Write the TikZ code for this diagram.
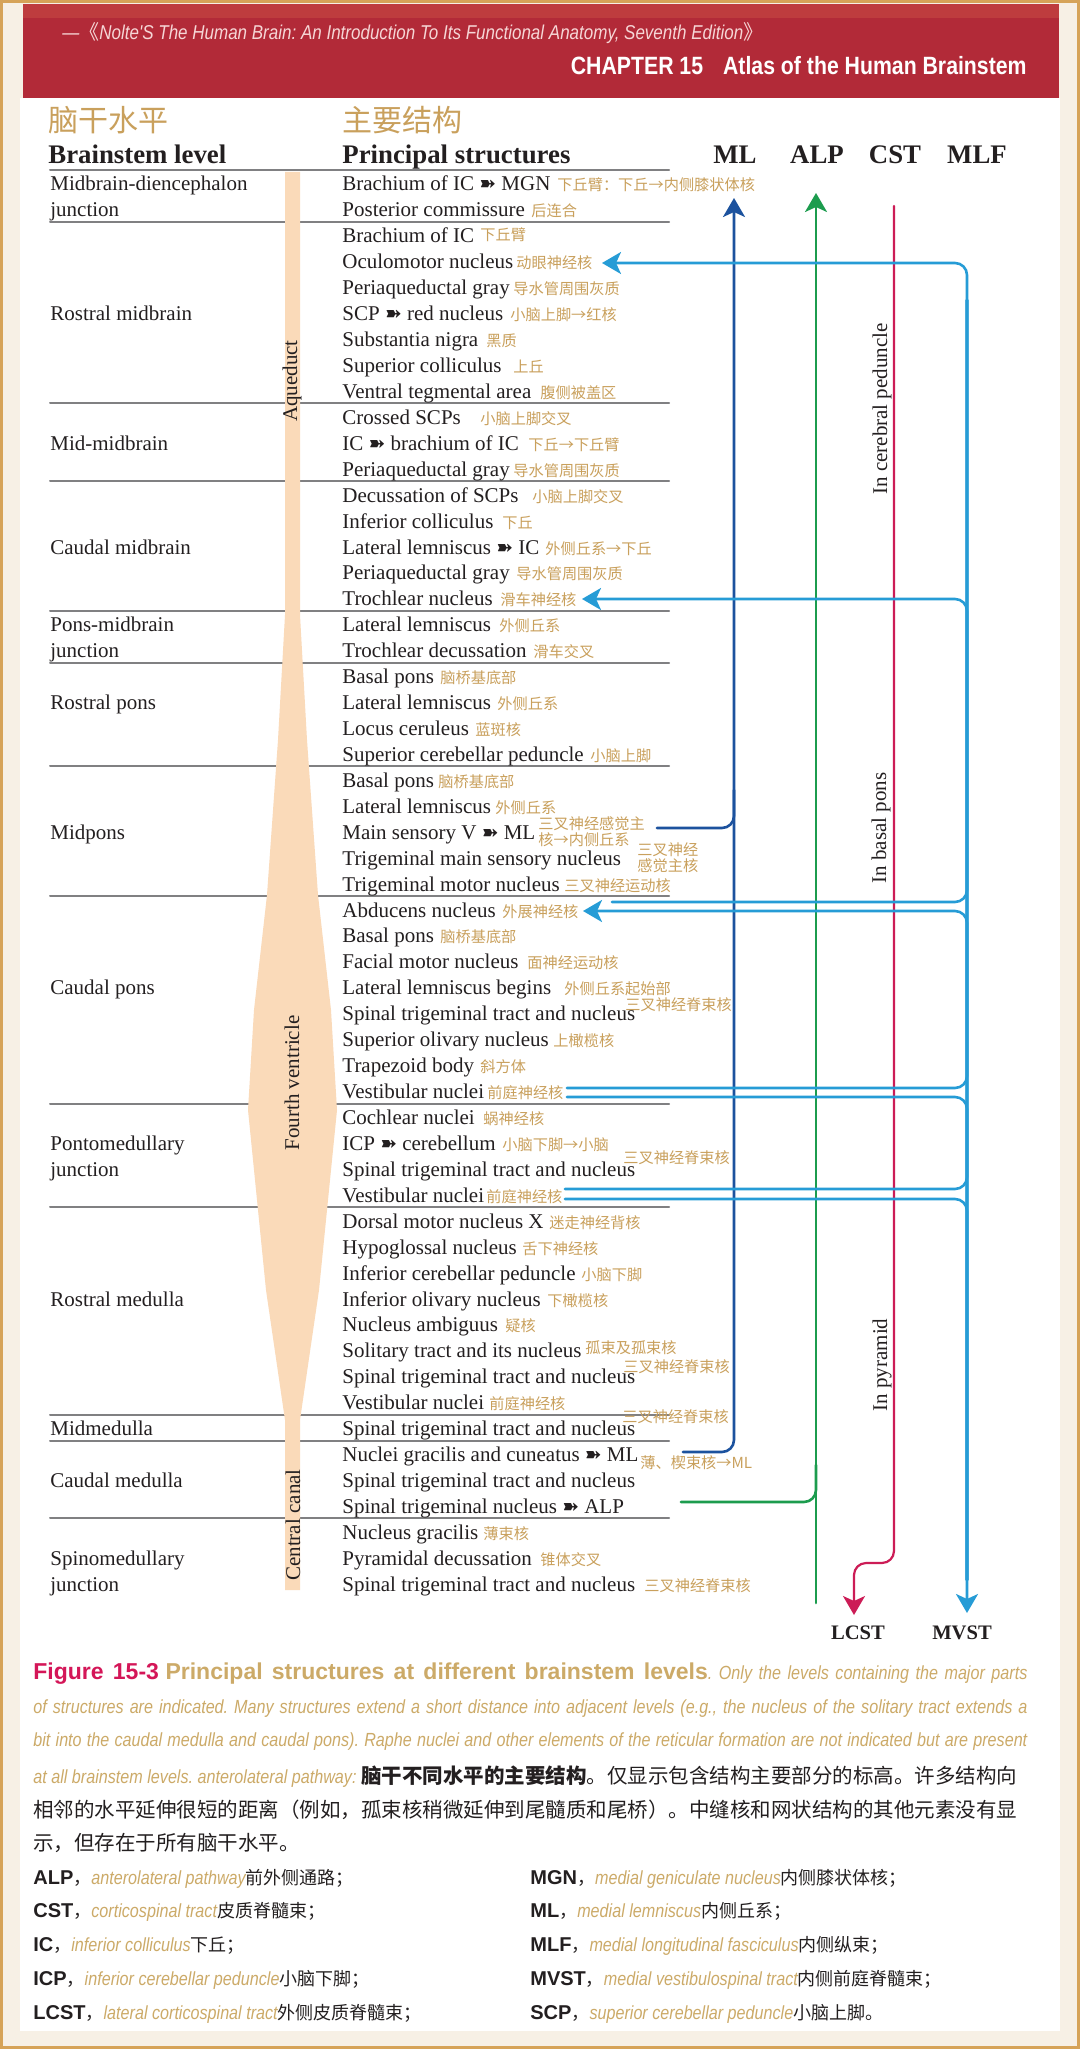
\documentclass[tikz,border=0pt]{standalone}
\usepackage{fontspec}
\setmainfont{Liberation Serif}
\newfontfamily\zhfont{Noto Sans CJK SC}
\newfontfamily\plainsf{Liberation Sans}
\newfontfamily\capsf{Liberation Sans}[FakeStretch=0.85]
\newfontfamily\symfont{DejaVu Sans}
\usetikzlibrary{arrows.meta,positioning}
\frenchspacing

\definecolor{paper}{RGB}{247,240,229}
\definecolor{framegold}{RGB}{214,163,88}
\definecolor{bandred}{RGB}{178,42,56}
\definecolor{bandtop}{RGB}{190,60,62}
\definecolor{headpink}{RGB}{246,214,214}
\definecolor{zhgold}{RGB}{201,160,92}
\definecolor{capgold}{RGB}{204,170,104}
\definecolor{figred}{RGB}{212,22,88}
\definecolor{ink}{RGB}{35,31,32}
\definecolor{sepgray}{RGB}{128,128,130}
\definecolor{peach}{RGB}{250,218,185}
\definecolor{mlblue}{RGB}{28,82,158}
\definecolor{alpgreen}{RGB}{28,156,78}
\definecolor{cstred}{RGB}{204,28,86}
\definecolor{mlfblue}{RGB}{38,156,214}

\newcommand*{\tto}{{\symfont\fontsize{10}{10}\selectfont ➽}}
\newcommand*{\abbr}[3]{{\plainsf\bfseries\fontsize{10}{12}\selectfont #1}{\zhfont\fontsize{9}{11}\selectfont ，}%
    \textcolor{capgold}{\capsf\itshape\fontsize{9.5}{11}\selectfont #2}{\zhfont\fontsize{9}{11}\selectfont #3}}

\tikzset{hd/.tip={Stealth[length=9.5pt,width=11pt,inset=2.5pt]}}

\begin{document}
\begin{tikzpicture}[x=0.5pt,y=-0.5pt,line cap=round,line join=round,
    row/.style={anchor=base west,inner sep=0pt,text=ink,font=\fontsize{10.5}{12}\selectfont},
    zh/.style={anchor=base west,inner sep=0pt,text=zhgold,font=\zhfont\fontsize{7.6}{8}\selectfont},
    zhtwo/.style={zh,anchor=west,align=left},
    colhead/.style={anchor=base,inner sep=0pt,text=ink,font=\bfseries\fontsize{13.4}{15}\selectfont},
    zhhead/.style={anchor=base west,inner sep=0pt,text=zhgold,font=\zhfont\fontsize{15}{17}\selectfont},
    foot/.style={anchor=base,inner sep=0pt,text=ink,font=\bfseries\fontsize{10.3}{12}\selectfont},
    vlabel/.style={rotate=90,inner sep=0pt,text=ink,font=\fontsize{10.5}{12}\selectfont},
    capline/.style={anchor=base west,inner sep=0pt,font=\capsf\fontsize{9.5}{11}\selectfont},
    zhcap/.style={anchor=base west,inner sep=0pt,text=ink,font=\zhfont\fontsize{10.25}{12}\selectfont},
    abbrline/.style={anchor=base west,inner sep=0pt,text=ink},
    sep/.style={draw=sepgray,line width=1pt},
    mlline/.style={draw=mlblue,line width=1.3pt,rounded corners=6pt},
    alpline/.style={draw=alpgreen,line width=1.3pt,rounded corners=6pt},
    cstline/.style={draw=cstred,line width=1.1pt,rounded corners=6pt},
    mlfline/.style={draw=mlfblue,line width=1.3pt,rounded corners=6pt}]
    \useasboundingbox (0,0) rectangle (1080,2049);
    \fill[paper] (0,0) rectangle (1080,2049);
    \draw[framegold,line width=2pt] (1,1) rectangle (1079,2048);
    \fill[white] (20,98) rectangle (1060,2031);
    \fill[bandred] (23,4) rectangle (1059,98);
    \fill[bandtop] (23,4) rectangle (1059,18);
    \node[anchor=base west,inner sep=0pt,text=headpink,font=\capsf\itshape\fontsize{10}{12}\selectfont] (book) at (62,40)
        {—{\zhfont《}Nolte'S The Human Brain: An Introduction To Its Functional Anatomy, Seventh Edition{\zhfont》}};
    \node[anchor=base east,inner sep=0pt,text=white,font=\capsf\bfseries\fontsize{12.5}{14}\selectfont] (chapter) at (1027,75)
        {CHAPTER 15\hspace{10pt}Atlas of the Human Brainstem};

    \node[zhhead] (zhlevel) at (48,132) {脑干水平};
    \node[zhhead] (zhstruct) at (342,132) {主要结构};
    \node[colhead,anchor=base west] (level) at (48,164) {Brainstem level};
    \node[colhead,anchor=base west] (struct) at (342,164) {Principal structures};
    \node[colhead] (ml) at (735,164) {ML};
    \node[colhead] (alp) at (817,164) {ALP};
    \node[colhead] (cst) at (895,164) {CST};
    \node[colhead] (mlf) at (977,164) {MLF};

    \foreach \g in {0,2,9,12,17,19,23,28,36,40,48,49,52}
        \draw[sep] (50,{183+(\g-0.5)*25.93}) -- (669,{183+(\g-0.5)*25.93});

    \fill[peach] (285,172) -- (285,615) -- (278,740) -- (267,895) -- (254,1010) -- (248,1110) -- (266,1290)
        -- (285,1420) -- (285,1590) -- (300,1590) -- (300,1420) -- (319,1290) -- (337,1110) -- (331,1010)
        -- (318,895) -- (307,740) -- (300,615) -- (300,172) -- cycle;
    \node[vlabel] (aqueduct) at (292,381) {Aqueduct};
    \node[vlabel] (fourth) at (292,1083) {Fourth ventricle};
    \node[vlabel] (canal) at (293,1525) {Central canal};

    \foreach \k/\txt in {1/Midbrain-diencephalon,2/junction,6/Rostral midbrain,11/Mid-midbrain,15/Caudal midbrain,
        18/Pons-midbrain,19/junction,21/Rostral pons,26/Midpons,32/Caudal pons,38/Pontomedullary,39/junction,
        44/Rostral medulla,49/Midmedulla,51/Caudal medulla,54/Spinomedullary,55/junction}
        \node[row] (lv\k) at (50,{191+(\k-1)*25.93}) {\txt};

    \foreach \k/\txt in {1/{Brachium of IC \tto{} MGN},2/{Posterior commissure},3/{Brachium of IC},
        4/{Oculomotor nucleus},5/{Periaqueductal gray},6/{SCP \tto{} red nucleus},7/{Substantia nigra},
        8/{Superior colliculus},9/{Ventral tegmental area},10/{Crossed SCPs},11/{IC \tto{} brachium of IC},
        12/{Periaqueductal gray},13/{Decussation of SCPs},14/{Inferior colliculus},15/{Lateral lemniscus \tto{} IC},
        16/{Periaqueductal gray},17/{Trochlear nucleus},18/{Lateral lemniscus},19/{Trochlear decussation},
        20/{Basal pons},21/{Lateral lemniscus},22/{Locus ceruleus},23/{Superior cerebellar peduncle},
        24/{Basal pons},25/{Lateral lemniscus},26/{Main sensory V \tto{} ML},27/{Trigeminal main sensory nucleus},
        28/{Trigeminal motor nucleus},29/{Abducens nucleus},30/{Basal pons},31/{Facial motor nucleus},
        32/{Lateral lemniscus begins},33/{Spinal trigeminal tract and nucleus},34/{Superior olivary nucleus},
        35/{Trapezoid body},36/{Vestibular nuclei},37/{Cochlear nuclei},38/{ICP \tto{} cerebellum},
        39/{Spinal trigeminal tract and nucleus},40/{Vestibular nuclei},41/{Dorsal motor nucleus X},
        42/{Hypoglossal nucleus},43/{Inferior cerebellar peduncle},44/{Inferior olivary nucleus},
        45/{Nucleus ambiguus},46/{Solitary tract and its nucleus},47/{Spinal trigeminal tract and nucleus},
        48/{Vestibular nuclei},49/{Spinal trigeminal tract and nucleus},50/{Nuclei gracilis and cuneatus \tto{} ML},
        51/{Spinal trigeminal tract and nucleus},52/{Spinal trigeminal nucleus \tto{} ALP},53/{Nucleus gracilis},
        54/{Pyramidal decussation},55/{Spinal trigeminal tract and nucleus}}
        \node[row] (r\k) at (342,{191+(\k-1)*25.93}) {\txt};

    \foreach \k/\txt/\xx/\dy in {1/{下丘臂：下丘→内侧膝状体核}/557/0,2/{后连合}/531/0,3/{下丘臂}/480/-2,
        4/{动眼神经核}/516/0,5/{导水管周围灰质}/513/0,6/{小脑上脚→红核}/510/0,7/{黑质}/486/0,8/{上丘}/513/0,
        9/{腹侧被盖区}/540/0,10/{小脑上脚交叉}/480/0,11/{下丘→下丘臂}/528/0,12/{导水管周围灰质}/513/0,
        13/{小脑上脚交叉}/532/0,14/{下丘}/502/0,15/{外侧丘系→下丘}/545/0,16/{导水管周围灰质}/516/0,
        17/{滑车神经核}/500/0,18/{外侧丘系}/499/0,19/{滑车交叉}/533/0,20/{脑桥基底部}/440/0,
        21/{外侧丘系}/497/0,22/{蓝斑核}/475/0,23/{小脑上脚}/590/0,24/{脑桥基底部}/438/0,25/{外侧丘系}/495/0,
        28/{三叉神经运动核}/564/0,29/{外展神经核}/502/0,30/{脑桥基底部}/440/0,31/{面神经运动核}/527/0,
        32/{外侧丘系起始部}/564/0,33/{三叉神经脊束核}/625/-10,34/{上橄榄核}/553/0,35/{斜方体}/480/0,
        36/{前庭神经核}/487/0,37/{蜗神经核}/483/0,38/{小脑下脚→小脑}/502/0,39/{三叉神经脊束核}/623/-13,
        40/{前庭神经核}/486/0,41/{迷走神经背核}/549/0,42/{舌下神经核}/522/0,43/{小脑下脚}/581/0,
        44/{下橄榄核}/547/0,45/{疑核}/505/0,46/{孤束及孤束核}/585/-4,47/{三叉神经脊束核}/623/-11,
        48/{前庭神经核}/489/0,49/{三叉神经脊束核}/622/-13,50/{薄、楔束核→ML}/640/7,53/{薄束核}/483/0,
        54/{锥体交叉}/540/0,55/{三叉神经脊束核}/644/0}
        \node[zh] (z\k) at (\xx,{191+(\k-1)*25.93+\dy}) {\txt};
    \node[zhtwo] (z26) at (538,832) {三叉神经感觉主\\核→内侧丘系};
    \node[zhtwo] (z27) at (637,858) {三叉神经\\感觉主核};

    \coordinate (mlTop) at (734,198);
    \coordinate (mlFoot) at (683,1452);
    \coordinate (mlSide) at (657,828);
    \coordinate (mlJoin) at (734,790);
    \coordinate (alpTop) at (816,193);
    \coordinate (alpFoot) at (816,1603);
    \coordinate (alpSide) at (681,1502);
    \coordinate (alpJoin) at (816,1465);
    \coordinate (cstTop) at (894,206);
    \coordinate (cstBend) at (854,1563);
    \coordinate (lcstTip) at (854,1615);
    \coordinate (mlfUp) at (967,300);
    \coordinate (mlfDown) at (967,1580);
    \coordinate (mvstTip) at (967,1613);
    \coordinate (ocTip) at (602,263);
    \coordinate (trTip) at (582,599);
    \coordinate (abTip) at (583,911);
    \coordinate (abEnd) at (612,902);
    \coordinate (veA) at (567,1088);
    \coordinate (veB) at (567,1097);
    \coordinate (veC) at (565,1189);
    \coordinate (veD) at (565,1199);

    \draw[mlline,-hd] (mlFoot) -| (mlTop);
    \draw[mlline] (mlSide) -| (mlJoin);
    \draw[alpline,-hd] (alpFoot) -- (alpTop);
    \draw[alpline] (alpSide) -| (alpJoin);
    \draw[cstline,-hd] (cstTop) |- (cstBend) -- (lcstTip);
    \draw[mlfline,hd-hd] (ocTip) -| (mvstTip);
    \draw[mlfline,hd-] (trTip) -| (mlfDown);
    \draw[mlfline] (abEnd) -| (mlfUp);
    \draw[mlfline,hd-] (abTip) -| (mlfDown);
    \draw[mlfline] (veA) -| (mlfUp);
    \draw[mlfline] (veB) -| (mlfDown);
    \draw[mlfline] (veC) -| (mlfUp);
    \draw[mlfline] (veD) -| (mlfDown);

    \node[vlabel] (peduncle) at (882,409) {In cerebral peduncle};
    \node[vlabel] (basalpons) at (881,828) {In basal pons};
    \node[vlabel] (pyramid) at (882,1365) {In pyramid};
    \node[foot] (lcst) at (858,1639) {LCST};
    \node[foot] (mvst) at (962,1639) {MVST};

    \node[capline] (cap1) at (33,1679) {\makebox[497pt][s]{\textcolor{figred}{\plainsf\bfseries\fontsize{11.5}{13}\selectfont Figure 15-3}
        \textcolor{capgold}{\plainsf\bfseries\fontsize{11.5}{13}\selectfont Principal structures at different brainstem levels}\textcolor{capgold}{\itshape.
        Only the levels containing the major parts}}};
    \node[capline,text=capgold] (cap2) at (33,1713) {\makebox[497pt][s]{\itshape of structures are indicated. Many structures
        extend a short distance into adjacent levels (e.g., the nucleus of the solitary tract extends a}};
    \node[capline,text=capgold] (cap3) at (33,1746) {\makebox[497pt][s]{\itshape bit into the caudal medulla and caudal pons).
        Raphe nuclei and other elements of the reticular formation are not indicated but are present}};
    \node[capline] (cap4) at (33,1783) {\textcolor{capgold}{\itshape at all brainstem levels. anterolateral pathway: }{\zhfont
        \fontsize{10.25}{12}\selectfont\textcolor{ink}{\bfseries 脑干不同水平的主要结构}\textcolor{ink}{。仅显示包含结构主要部分的标高。许多结构向}}};
    \node[zhcap] (cap5) at (33,1817) {相邻的水平延伸很短的距离（例如，孤束核稍微延伸到尾髓质和尾桥）。中缝核和网状结构的其他元素没有显};
    \node[zhcap] (cap6) at (33,1850) {示，但存在于所有脑干水平。};

    \foreach \i/\ab/\en/\zhtxt in {1/ALP/anterolateral pathway/前外侧通路；,2/CST/corticospinal tract/皮质脊髓束；,
        3/IC/inferior colliculus/下丘；,4/ICP/inferior cerebellar peduncle/小脑下脚；,
        5/LCST/lateral corticospinal tract/外侧皮质脊髓束；}
        \node[abbrline] (left\i) at (33,{1884+(\i-1)*33.75}) {\abbr{\ab}{\en}{\zhtxt}};
    \foreach \i/\ab/\en/\zhtxt in {1/MGN/medial geniculate nucleus/内侧膝状体核；,2/ML/medial lemniscus/内侧丘系；,
        3/MLF/medial longitudinal fasciculus/内侧纵束；,4/MVST/medial vestibulospinal tract/内侧前庭脊髓束；,
        5/SCP/superior cerebellar peduncle/小脑上脚。}
        \node[abbrline] (right\i) at (530,{1884+(\i-1)*33.75}) {\abbr{\ab}{\en}{\zhtxt}};
\end{tikzpicture}
\end{document}
